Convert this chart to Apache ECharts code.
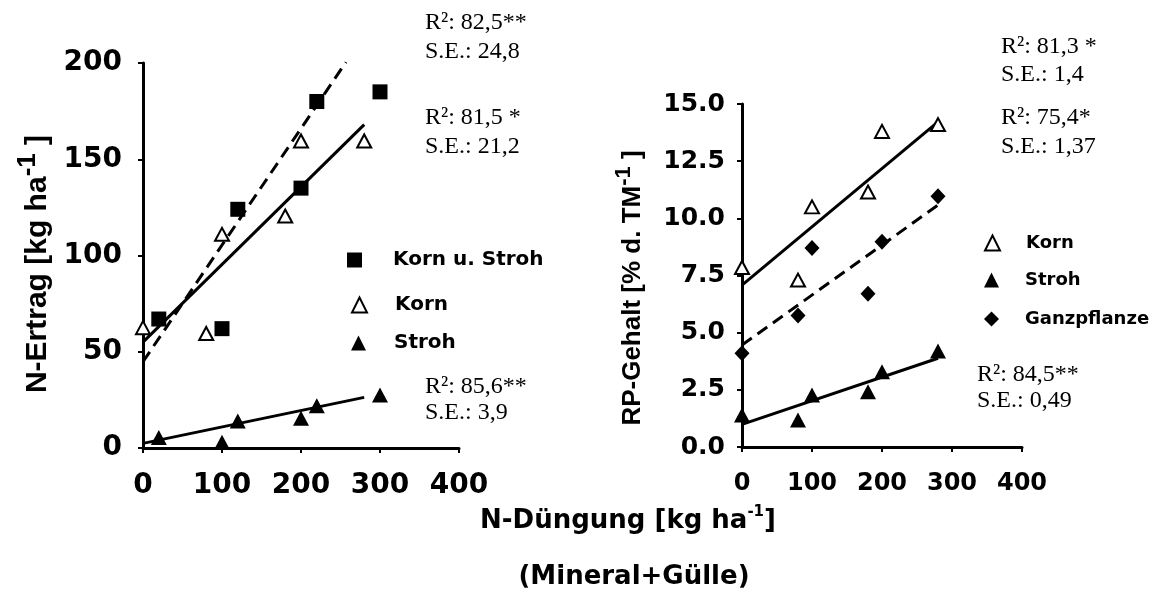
<!DOCTYPE html>
<html>
<head>
<meta charset="utf-8">
<script src="https://cdn.jsdelivr.net/npm/echarts@6/dist/echarts.min.js"></script>
<style>html,body{margin:0;padding:0;background:#fff}#c{width:1158px;height:598px}</style>
</head>
<body>
<div id="c"></div>
<script>
// ---------- data ----------
const xTicks = [0, 100, 200, 300, 400];
// left chart: N-Ertrag
const xSquareL = [20, 100, 120, 200, 220, 300];
const kornStrohL = [67, 62, 124, 135, 180, 185];
const xKornL = [0, 80, 100, 180, 200, 280];
const kornL = [62.5, 59.5, 111, 120.5, 159.5, 159.5];
const xStrohL = [20, 100, 120, 200, 220, 300];
const strohL = [5.5, 3, 14, 15.5, 22, 27.5];
const fitSolidL = [[0, 55], [280, 168]];
const fitDashL = [[0, 44.8], [257, 200.5]];
const fitStrohL = [[0, 2.4], [280, 26.3]];
// right chart: RP-Gehalt
const xR = [0, 80, 100, 180, 200, 280];
const kornR = [7.85, 7.3, 10.5, 11.15, 13.8, 14.1];
const ganzR = [4.1, 5.75, 8.7, 6.7, 8.98, 10.97];
const strohR = [1.4, 1.18, 2.27, 2.42, 3.29, 4.2];
const fitKornR = [[0, 7.08], [280, 14.22]];
const fitGanzR = [[0, 4.46], [280, 10.58]];
const fitStrohR = [[0, 0.99], [280, 3.88]];
// annotation texts
const annL = ['R²: 82,5**', 'S.E.: 24,8', 'R²: 81,5 *', 'S.E.: 21,2', 'R²: 85,6**', 'S.E.: 3,9'];
const annR = ['R²: 81,3 *', 'S.E.: 1,4', 'R²: 75,4*', 'S.E.: 1,37', 'R²: 84,5**', 'S.E.: 0,49'];
const legL = ['Korn u. Stroh', 'Korn', 'Stroh'];
const legR = ['Korn', 'Stroh', 'Ganzpflanze'];

const zip = (xs, ys) => xs.map((x, i) => [x, ys[i]]);
const BOLD = '"DejaVu Sans"';
const SERIF = '"Liberation Serif", "Times New Roman", serif';

function axisBase(fontSize, margin) {
  return {
    type: 'value',
    axisLine: { show: true, onZero: false, lineStyle: { color: '#000', width: 3 } },
    axisTick: { show: true, length: 5, lineStyle: { color: '#000', width: 2 } },
    splitLine: { show: false },
    axisLabel: { color: '#000', fontFamily: BOLD, fontWeight: 'bold', fontSize: fontSize, margin: margin }
  };
}

const chart = echarts.init(document.getElementById('c'), null, { renderer: 'canvas' });

const openTri = { color: '#fff', borderColor: '#000', borderWidth: 2, opacity: 1 };
const black = { color: '#000', opacity: 1 };

function lineSeries(data, xi, dash) {
  return {
    type: 'line', xAxisIndex: xi, yAxisIndex: xi, data: data, symbol: 'none',
    lineStyle: { color: '#000', width: 3, type: dash ? [12, 7] : 'solid' },
    z: 2, silent: true, legendHoverLink: false
  };
}

function annText(x, y, t) {
  return { type: 'text', x: x, y: y, style: { text: t, font: '24px ' + SERIF, fill: '#000',
    align: 'left', textAlign: 'left', verticalAlign: 'middle', textVerticalAlign: 'middle' } };
}

function legendAt(name, left, top, fontSize, pad) {
  return {
    data: [name], left: left, top: top, orient: 'vertical', padding: 0,
    itemWidth: 15, itemHeight: 15, selectedMode: false,
    textStyle: { color: '#000', fontFamily: BOLD, fontWeight: 'bold', fontSize: fontSize, padding: [0, 0, 0, pad] }
  };
}

const option = {
  animation: false,
  backgroundColor: '#fff',
  grid: [
    { left: 143, top: 63, width: 316, height: 385 },
    { left: 742, top: 104, width: 280, height: 343 }
  ],
  xAxis: [
    Object.assign(axisBase(28, 24), { gridIndex: 0, min: 0, max: 400, interval: 100 }),
    Object.assign(axisBase(24, 25), { gridIndex: 1, min: 0, max: 400, interval: 100 })
  ],
  yAxis: [
    Object.assign(axisBase(28, 21), { gridIndex: 0, min: 0, max: 200, interval: 50 }),
    Object.assign(axisBase(25, 17), { gridIndex: 1, min: 0, max: 15, interval: 2.5,
      axisLabel: { color: '#000', fontFamily: BOLD, fontWeight: 'bold', fontSize: 25, margin: 17,
        formatter: v => v.toFixed(1) } })
  ],
  legend: [
    legendAt(legL[0], 347, 250, 20, 26),
    legendAt(legL[1], 351, 295, 20, 23),
    legendAt(legL[2], 351, 333, 20, 23),
    legendAt(legR[0], 984, 234, 18, 21),
    legendAt(legR[1], 984, 271, 18, 21),
    legendAt(legR[2], 984, 310, 18, 21)
  ],
  series: [
    lineSeries(fitSolidL, 0, false),
    lineSeries(fitDashL, 0, true),
    lineSeries(fitStrohL, 0, false),
    { name: 'Korn u. Stroh', type: 'scatter', xAxisIndex: 0, yAxisIndex: 0, symbol: 'rect', symbolSize: 15,
      itemStyle: black, data: zip(xSquareL, kornStrohL), z: 5 },
    { name: 'Korn', type: 'scatter', xAxisIndex: 0, yAxisIndex: 0, symbol: 'triangle', symbolSize: [14, 13],
      itemStyle: openTri, data: zip(xKornL, kornL), z: 5 },
    { name: 'Stroh', type: 'scatter', xAxisIndex: 0, yAxisIndex: 0, symbol: 'triangle', symbolSize: [16, 15],
      itemStyle: black, data: zip(xStrohL, strohL), z: 5 },
    lineSeries(fitKornR, 1, false),
    lineSeries(fitGanzR, 1, true),
    lineSeries(fitStrohR, 1, false),
    { name: 'Korn', type: 'scatter', xAxisIndex: 1, yAxisIndex: 1, symbol: 'triangle', symbolSize: [14, 13],
      itemStyle: openTri, data: zip(xR, kornR), z: 5 },
    { name: 'Stroh', type: 'scatter', xAxisIndex: 1, yAxisIndex: 1, symbol: 'triangle', symbolSize: [16, 15],
      itemStyle: black, data: zip(xR, strohR), z: 5 },
    { name: 'Ganzpflanze', type: 'scatter', xAxisIndex: 1, yAxisIndex: 1, symbol: 'diamond', symbolSize: [15, 16],
      itemStyle: black, data: zip(xR, ganzR), z: 5 }
  ],
  graphic: [
    annText(425, 23, annL[0]), annText(425, 52, annL[1]),
    annText(425, 118, annL[2]), annText(425, 147, annL[3]),
    annText(425, 387, annL[4]), annText(425, 413, annL[5]),
    annText(1001, 47, annR[0]), annText(1001, 75, annR[1]),
    annText(1001, 118, annR[2]), annText(1001, 147, annR[3]),
    annText(977, 375, annR[4]), annText(977, 401, annR[5]),
    { type: 'text', x: 38, y: 264, rotation: Math.PI / 2,
      style: { text: '{a|N-Ertrag [kg ha}{s|-1}{a| ]}', align: 'center', verticalAlign: 'middle',
        textAlign: 'center', textVerticalAlign: 'middle',
        rich: { a: { font: 'bold 30px "Liberation Sans", Arial, sans-serif', fill: '#000', lineHeight: 46 },
                s: { font: 'bold 26px "Liberation Sans", Arial, sans-serif', fill: '#000', verticalAlign: 'top', lineHeight: 26 } } } },
    { type: 'text', x: 633, y: 288, rotation: Math.PI / 2,
      style: { text: '{a|RP-Gehalt [% d. TM}{s|-1}{a| ]}', align: 'center', verticalAlign: 'middle',
        textAlign: 'center', textVerticalAlign: 'middle',
        rich: { a: { font: 'bold 26px "Liberation Sans", Arial, sans-serif', fill: '#000', lineHeight: 40 },
                s: { font: 'bold 22px "Liberation Sans", Arial, sans-serif', fill: '#000', verticalAlign: 'top', lineHeight: 22 } } } },
    { type: 'text', x: 628, y: 521,
      style: { text: '{a|N-Düngung [kg ha}{s|-1}{a|]}', align: 'center', verticalAlign: 'middle',
        textAlign: 'center', textVerticalAlign: 'middle',
        rich: { a: { font: 'bold 26px "DejaVu Sans"', fill: '#000', lineHeight: 32 },
                s: { font: 'bold 15px "DejaVu Sans"', fill: '#000', verticalAlign: 'top', lineHeight: 18 } } } },
    { type: 'text', x: 634, y: 577,
      style: { text: '(Mineral+Gülle)', font: 'bold 26px "DejaVu Sans"', fill: '#000',
        align: 'center', verticalAlign: 'middle', textAlign: 'center', textVerticalAlign: 'middle' } }
  ]
};
chart.setOption(option);
</script>
</body>
</html>
